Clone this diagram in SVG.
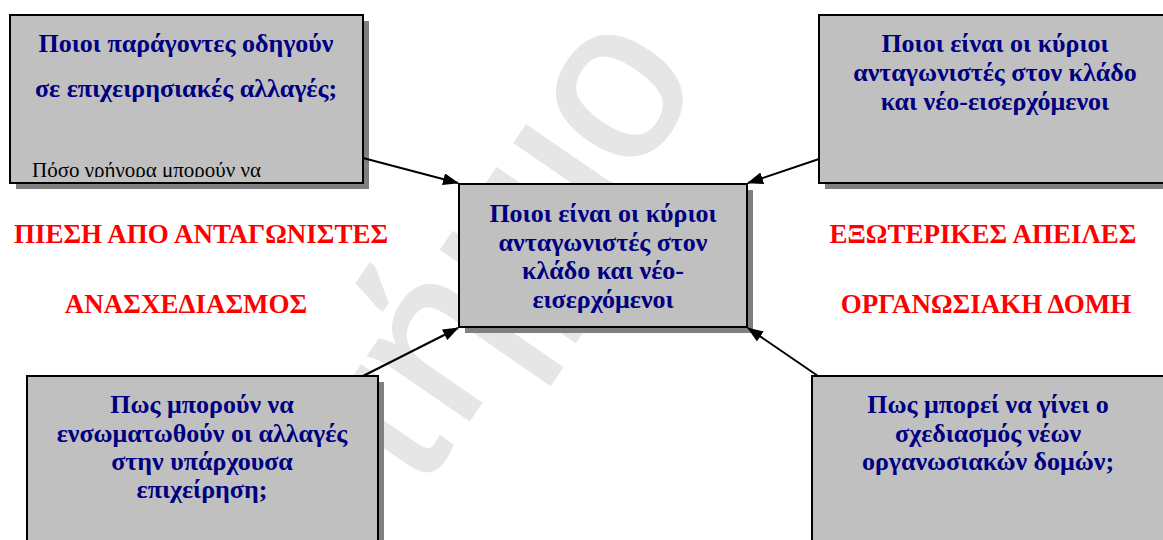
<svg xmlns="http://www.w3.org/2000/svg" width="1163" height="540" viewBox="0 0 1163 540">
  <style>
    .box { fill: #c0c0c0; stroke: #000; stroke-width: 2; }
    .shadow { fill: #808080; }
    .q { font-family: "Liberation Serif", "Times New Roman", serif; font-weight: bold; font-size: 26px; fill: #000080; text-anchor: middle; }
    .note { font-family: "Liberation Serif", "Times New Roman", serif; font-size: 21px; fill: #000; }
    .lbl { font-family: "Liberation Serif", "Times New Roman", serif; font-weight: bold; font-size: 27px; fill: #ff0000; text-anchor: middle; }
    .wm { font-family: "Liberation Sans", Arial, sans-serif; font-size: 225px; fill: #e6e6e6; stroke: #e6e6e6; stroke-width: 3; text-anchor: end; }
    .conn { stroke: #000; stroke-width: 2; fill: none; marker-end: url(#head); }
  </style>
  <defs>
    <marker id="head" viewBox="0 0 16 12" refX="15" refY="6" markerWidth="16" markerHeight="12" markerUnits="userSpaceOnUse" orient="auto">
      <path d="M0,0 L16,6 L0,12 z" fill="#000"/>
    </marker>
    <clipPath id="clipNote">
      <rect x="11" y="16" width="351" height="161"/>
    </clipPath>
  </defs>

  <rect width="1163" height="540" fill="#fff"/>

  <!-- background watermark -->
  <g id="watermark">
    <text class="wm" transform="translate(704,78) rotate(-55.5)">στήμιο</text>
  </g>

  <!-- top-left question -->
  <g id="node-drivers">
    <rect class="shadow" x="16" y="21" width="353" height="168"/>
    <rect class="box" x="10" y="15" width="353" height="168"/>
    <text class="q" x="186" y="52">Ποιοι παράγοντες οδηγούν</text>
    <text class="q" x="186" y="97">σε επιχειρησιακές αλλαγές;</text>
    <text class="note" x="32" y="177" clip-path="url(#clipNote)">Πόσο γρήγορα μπορούν να</text>
  </g>

  <!-- top-right question -->
  <g id="node-competitors-outer">
    <rect class="shadow" x="825" y="21" width="360" height="168"/>
    <rect class="box" x="819" y="15" width="360" height="168"/>
    <text class="q" x="995" y="52">Ποιοι είναι οι κύριοι</text>
    <text class="q" x="995" y="81">ανταγωνιστές στον κλάδο</text>
    <text class="q" x="995" y="110">και νέο-εισερχόμενοι</text>
  </g>

  <!-- central question -->
  <g id="node-center">
    <rect class="shadow" x="465" y="190" width="288" height="143"/>
    <rect class="box" x="459" y="184" width="288" height="143"/>
    <text class="q" x="603" y="222">Ποιοι είναι οι κύριοι</text>
    <text class="q" x="603" y="251">ανταγωνιστές στον</text>
    <text class="q" x="603" y="279">κλάδο και νέο-</text>
    <text class="q" x="603" y="308">εισερχόμενοι</text>
  </g>

  <!-- bottom-left question -->
  <g id="node-integration">
    <rect class="shadow" x="33" y="382" width="351" height="180"/>
    <rect class="box" x="27" y="376" width="351" height="180"/>
    <text class="q" x="202" y="413">Πως μπορούν να</text>
    <text class="q" x="202" y="442">ενσωματωθούν οι αλλαγές</text>
    <text class="q" x="202" y="470">στην υπάρχουσα</text>
    <text class="q" x="202" y="498">επιχείρηση;</text>
  </g>

  <!-- bottom-right question -->
  <g id="node-structures">
    <rect class="shadow" x="818" y="382" width="360" height="180"/>
    <rect class="box" x="812" y="376" width="360" height="180"/>
    <text class="q" x="988" y="413">Πως μπορεί να γίνει ο</text>
    <text class="q" x="988" y="442">σχεδιασμός νέων</text>
    <text class="q" x="988" y="470">οργανωσιακών δομών;</text>
  </g>

  <!-- free-standing red labels -->
  <g id="labels">
    <text class="lbl" x="201" y="243">ΠΙΕΣΗ ΑΠΟ ΑΝΤΑΓΩΝΙΣΤΕΣ</text>
    <text class="lbl" x="186" y="313">ΑΝΑΣΧΕΔΙΑΣΜΟΣ</text>
    <text class="lbl" x="983" y="243">ΕΞΩΤΕΡΙΚΕΣ ΑΠΕΙΛΕΣ</text>
    <text class="lbl" x="986" y="313">ΟΡΓΑΝΩΣΙΑΚΗ ΔΟΜΗ</text>
  </g>

  <!-- connectors into the central box corners -->
  <g id="connectors">
    <line class="conn" x1="363" y1="158" x2="458" y2="183"/>
    <line class="conn" x1="819" y1="159" x2="748" y2="183"/>
    <line class="conn" x1="363" y1="376" x2="458" y2="328"/>
    <line class="conn" x1="818" y1="376" x2="748" y2="328"/>
  </g>
</svg>
